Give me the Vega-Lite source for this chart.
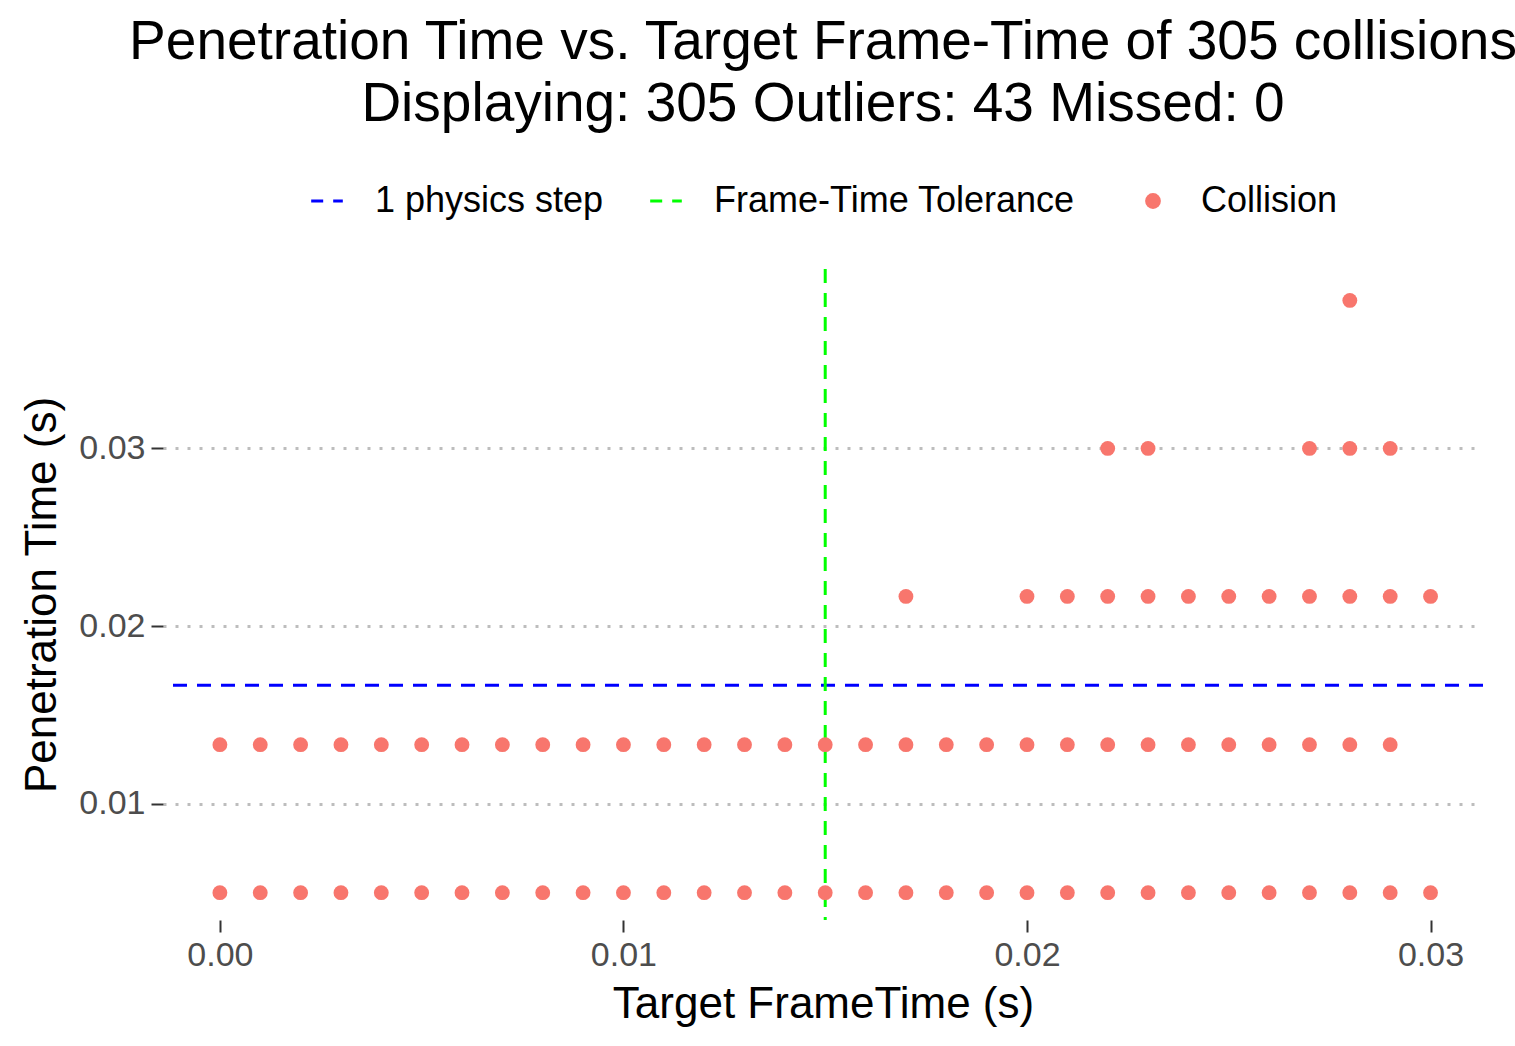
{
  "$schema": "https://vega.github.io/schema/vega-lite/v6.json",
  "autosize": {"type": "fit", "contains": "padding"},
  "width": 1515,
  "height": 1046,
  "padding": {"left": 20, "right": 30, "top": 15, "bottom": 20},
  "title": {
    "text": ["Penetration Time vs. Target Frame-Time of 305 collisions", "Displaying: 305 Outliers: 43 Missed: 0"],
    "fontSize": 55, "font": "Arial", "fontWeight": "normal", "color": "black",
    "anchor": "middle", "offset": 50, "lineHeight": 62
  },
  "config": {
    "view": {"stroke": null},
    "font": "Arial",
    "axis": {
      "labelFontSize": 34, "labelColor": "#4d4d4d", "titleFontSize": 44, "titleFontWeight": "normal",
      "titleColor": "black", "domain": false, "tickColor": "#333333", "tickSize": 12, "tickWidth": 2,
      "labelPadding": 6
    },
    "legend": {
      "orient": "top", "direction": "horizontal", "labelFontSize": 36, "labelColor": "black",
      "title": null, "symbolSize": 400, "symbolStrokeWidth": 3, "labelOffset": 30, "columnPadding": 40,
      "labelLimit": 0, "offset": 50,
      "layout": {"top": {"anchor": "middle", "direction": "horizontal", "margin": 60}}
    }
  },
  "layer": [
    {
      "data": {"values": [{"kind": "1 physics step", "y": 0.016667}]},
      "mark": {"type": "rule", "strokeWidth": 3, "strokeDash": [14, 10]},
      "encoding": {
        "y": {"field": "y", "type": "quantitative", "title": "Penetration Time (s)",
          "scale": {"domain": [0.00346, 0.0401], "nice": false, "zero": false},
          "axis": {"values": [0.01, 0.02, 0.03], "format": ".2f", "grid": true, "gridDash": [3, 9],
            "gridColor": "#bdbdbd", "gridWidth": 3, "titlePadding": 14}},
        "stroke": {"field": "kind", "type": "nominal",
          "scale": {"domain": ["1 physics step", "Frame-Time Tolerance"], "range": ["#0000ff", "#00ff00"]},
          "legend": {"symbolType": "stroke", "symbolDash": [12, 10], "symbolSize": 1000}}
      }
    },
    {
      "data": {"values": [{"kind": "Frame-Time Tolerance", "x": 0.015}]},
      "mark": {"type": "rule", "strokeWidth": 3, "strokeDash": [14, 10]},
      "encoding": {
        "x": {"field": "x", "type": "quantitative", "title": "Target FrameTime (s)",
          "scale": {"domain": [-0.00141, 0.0313], "nice": false, "zero": false},
          "axis": {"values": [0, 0.01, 0.02, 0.03], "format": ".2f", "grid": false, "titlePadding": 10}},
        "stroke": {"field": "kind", "type": "nominal"}
      }
    },
    {
      "data": {"values": [
        {"x":0,"y":0.005},{"x":0.001,"y":0.005},{"x":0.002,"y":0.005},{"x":0.003,"y":0.005},{"x":0.004,"y":0.005},{"x":0.005,"y":0.005},{"x":0.006,"y":0.005},{"x":0.007,"y":0.005},{"x":0.008,"y":0.005},{"x":0.009,"y":0.005},{"x":0.010,"y":0.005},{"x":0.011,"y":0.005},{"x":0.012,"y":0.005},{"x":0.013,"y":0.005},{"x":0.014,"y":0.005},{"x":0.015,"y":0.005},{"x":0.016,"y":0.005},{"x":0.017,"y":0.005},{"x":0.018,"y":0.005},{"x":0.019,"y":0.005},{"x":0.020,"y":0.005},{"x":0.021,"y":0.005},{"x":0.022,"y":0.005},{"x":0.023,"y":0.005},{"x":0.024,"y":0.005},{"x":0.025,"y":0.005},{"x":0.026,"y":0.005},{"x":0.027,"y":0.005},{"x":0.028,"y":0.005},{"x":0.029,"y":0.005},{"x":0.030,"y":0.005},
        {"x":0,"y":0.01333},{"x":0.001,"y":0.01333},{"x":0.002,"y":0.01333},{"x":0.003,"y":0.01333},{"x":0.004,"y":0.01333},{"x":0.005,"y":0.01333},{"x":0.006,"y":0.01333},{"x":0.007,"y":0.01333},{"x":0.008,"y":0.01333},{"x":0.009,"y":0.01333},{"x":0.010,"y":0.01333},{"x":0.011,"y":0.01333},{"x":0.012,"y":0.01333},{"x":0.013,"y":0.01333},{"x":0.014,"y":0.01333},{"x":0.015,"y":0.01333},{"x":0.016,"y":0.01333},{"x":0.017,"y":0.01333},{"x":0.018,"y":0.01333},{"x":0.019,"y":0.01333},{"x":0.020,"y":0.01333},{"x":0.021,"y":0.01333},{"x":0.022,"y":0.01333},{"x":0.023,"y":0.01333},{"x":0.024,"y":0.01333},{"x":0.025,"y":0.01333},{"x":0.026,"y":0.01333},{"x":0.027,"y":0.01333},{"x":0.028,"y":0.01333},{"x":0.029,"y":0.01333},
        {"x":0.017,"y":0.02167},{"x":0.020,"y":0.02167},{"x":0.021,"y":0.02167},{"x":0.022,"y":0.02167},{"x":0.023,"y":0.02167},{"x":0.024,"y":0.02167},{"x":0.025,"y":0.02167},{"x":0.026,"y":0.02167},{"x":0.027,"y":0.02167},{"x":0.028,"y":0.02167},{"x":0.029,"y":0.02167},{"x":0.030,"y":0.02167},
        {"x":0.022,"y":0.03},{"x":0.023,"y":0.03},{"x":0.027,"y":0.03},{"x":0.028,"y":0.03},{"x":0.029,"y":0.03},
        {"x":0.028,"y":0.03833}
      ]},
      "transform": [{"calculate": "'Collision'", "as": "kind"}],
      "mark": {"type": "circle", "size": 220, "opacity": 1},
      "encoding": {
        "x": {"field": "x", "type": "quantitative"},
        "y": {"field": "y", "type": "quantitative"},
        "fill": {"field": "kind", "type": "nominal", "scale": {"domain": ["Collision"], "range": ["#F8766D"]},
          "legend": {"symbolType": "circle", "symbolSize": 250, "symbolFillColor": "#F8766D"}}
      }
    }
  ]
}
